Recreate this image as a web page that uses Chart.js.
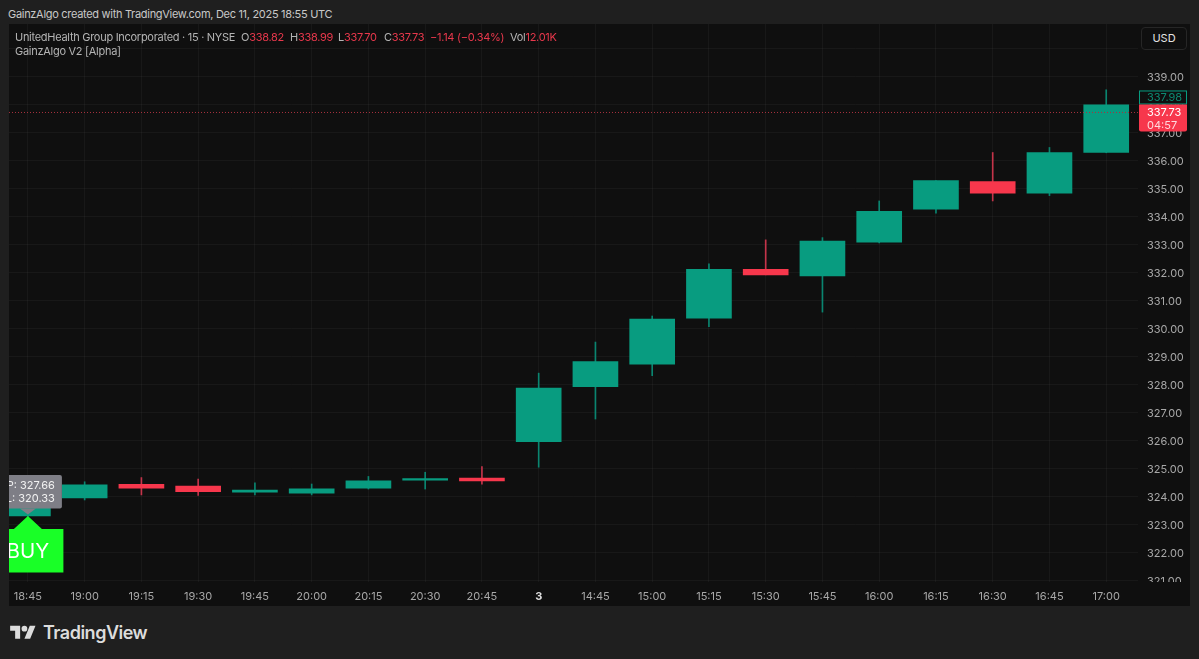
<!DOCTYPE html>
<html>
<head>
<meta charset="utf-8">
<style>
  html, body { margin: 0; padding: 0; width: 1199px; height: 659px; overflow: hidden; background: #1f1f1f; font-family: Inter, "Noto Sans", sans-serif; }
  .abs { position: absolute; white-space: nowrap; }
  #panel { position: absolute; left: 9px; top: 24px; width: 1181px; height: 582px; background: #0f0f0f; }
  #chart { position: absolute; left: 9px; top: 24px; }
  .legend { font-size: 11px; color: #b4b4b4; line-height: 14px; letter-spacing: -0.28px; }
  .legend b { font-weight: 400; color: #e8384c; }
  #usd { position: absolute; left: 1141px; top: 27px; width: 44px; height: 21px; border: 1px solid #262626; border-radius: 4px; color: #e4e4e4; font-size: 11px; line-height: 21px; text-align: center; background: #0f0f0f; }
</style>
</head>
<body>
<div class="abs" style="left:8px;top:7px;font-size:11px;line-height:14px;color:#c8c8c8;letter-spacing:-0.3px">GainzAlgo created with TradingView.com, Dec 11, 2025 18:55 UTC</div>
<div id="panel"></div>
<canvas id="chart" width="1181" height="582"></canvas>

<div class="abs legend" style="left:15px;top:30px">UnitedHealth Group Incorporated · 15 · NYSE</div>
<div class="abs legend" style="left:241px;top:30px">O<b>338.82</b></div>
<div class="abs legend" style="left:290px;top:30px">H<b>338.99</b></div>
<div class="abs legend" style="left:338px;top:30px">L<b>337.70</b></div>
<div class="abs legend" style="left:384px;top:30px">C<b>337.73</b></div>
<div class="abs legend" style="left:430px;top:30px"><b>−1.14 (−0.34%)</b></div>
<div class="abs legend" style="left:510px;top:30px">Vol<b>12.01K</b></div>
<div class="abs legend" style="left:15px;top:44px">GainzAlgo V2 [Alpha]</div>
<div id="usd">USD</div>

<svg class="abs" style="left:10px;top:623px" width="26" height="20" viewBox="0 0 36 28" fill="#dcdcdc">
  <path d="M14 22H7V11H0V4h14v18zM28 22h-8l7.5-18h8L28 22z"/><circle cx="20" cy="8" r="4"/>
</svg>
<div class="abs" style="left:43px;top:622px;font-size:18px;line-height:22px;font-weight:600;color:#dcdcdc;letter-spacing:-0.5px">TradingView</div>

<script src="https://cdn.jsdelivr.net/npm/chart.js@4/dist/chart.umd.js"></script>
<script>
const categories = ["18:45", "19:00", "19:15", "19:30", "19:45", "20:00", "20:15", "20:30", "20:45", "3",
  "14:45", "15:00", "15:15", "15:30", "15:45", "16:00", "16:15", "16:30", "16:45", "17:00"];
const opens = [323.32, 323.96, 324.45, 324.39, 324.17, 324.13, 324.31, 324.60, 324.67, 325.97,
  327.94, 328.74, 330.38, 332.13, 331.89, 333.10, 334.28, 335.26, 334.85, 336.30];
const closes = [323.96, 324.43, 324.31, 324.19, 324.24, 324.29, 324.57, 324.65, 324.57, 327.89,
  328.83, 330.35, 332.13, 331.93, 333.14, 334.20, 335.30, 334.85, 336.30, 338.00];
const highs = [324.10, 324.54, 324.69, 324.64, 324.50, 324.46, 324.73, 324.88, 325.08, 328.42,
  329.53, 330.46, 332.32, 333.18, 333.26, 334.57, 335.30, 336.30, 336.48, 338.54];
const lows = [323.25, 323.89, 324.07, 324.05, 324.07, 324.07, 324.28, 324.28, 324.45, 325.06,
  326.78, 328.33, 330.08, 331.93, 330.60, 333.07, 334.13, 334.57, 334.76, 336.29];
const lastPrice = 337.73;
const closeTag = "337.98";
const countdown = "04:57";
const tpText = "P: 327.66";
const slText = "L: 320.33";

const UP = "#089c80";
const DOWN = "#f7374c";
const UP_WICK = "#0a8570";
const DOWN_WICK = "#c4344a";
const GRID = "rgba(255,255,255,0.04)";
const TICK = "#a8a8a8";
const xMin = -0.333, xMax = 19.56;

const candleColors = opens.map((o, i) => (closes[i] >= o ? UP : DOWN));
const wickColors = opens.map((o, i) => (closes[i] >= o ? UP_WICK : DOWN_WICK));
const noPadding = (s) => { s.paddingLeft = 0; s.paddingRight = 0; s.paddingTop = 0; s.paddingBottom = 0; };
const isSession = (ctx) => ctx.tick && ctx.tick.value === 9; // the "3" label is bold

// everything tied to a price but not a candle: buy marker, tp/sl bubble, tags on the axis
const overlays = {
  id: "overlays",
  afterDraw(chart) {
    const { ctx, chartArea, scales } = chart;
    const cx = scales.x.getPixelForValue(0);
    const tip = scales.y.getPixelForValue(opens[0]);
    ctx.save();

    // hide what sticks out under the price axis (321.00 gets cut there)
    ctx.fillStyle = "#0f0f0f";
    ctx.fillRect(chartArea.right, chartArea.bottom, chart.width - chartArea.right, chart.height - chartArea.bottom);

    // TP / SL bubble
    ctx.fillStyle = "#7e7e86";
    ctx.beginPath();
    ctx.roundRect(cx - 36, tip - 41, 70, 33.5, 2);
    ctx.fill();
    ctx.beginPath();
    ctx.moveTo(cx - 8, tip - 7.5);
    ctx.lineTo(cx, tip - 1.5);
    ctx.lineTo(cx + 8, tip - 7.5);
    ctx.fill();
    ctx.fillStyle = "#f2f2f2";
    ctx.font = "11px Inter";
    ctx.textAlign = "right";
    ctx.textBaseline = "middle";
    ctx.fillText(tpText, cx + 27, tip - 30.5);
    ctx.fillText(slText, cx + 27, tip - 17.5);

    // BUY marker
    ctx.fillStyle = "#19ff27";
    ctx.beginPath();
    ctx.moveTo(cx, tip);
    ctx.lineTo(cx + 14, tip + 13);
    ctx.lineTo(cx + 35.5, tip + 13);
    ctx.lineTo(cx + 35.5, tip + 56.5);
    ctx.lineTo(cx - 40, tip + 56.5);
    ctx.lineTo(cx - 40, tip + 13);
    ctx.lineTo(cx - 14, tip + 13);
    ctx.closePath();
    ctx.fill();
    ctx.fillStyle = "#ffffff";
    ctx.font = "20.5px Inter";
    ctx.textAlign = "center";
    ctx.fillText("BUY", cx, tip + 35.5);

    // price tags
    const tagX = chartArea.right + 1;
    const py = scales.y.getPixelForValue(lastPrice);
    ctx.textAlign = "left";
    ctx.fillStyle = "#0f0f0f";
    ctx.fillRect(tagX, py - 22, 48, 14);
    ctx.strokeStyle = UP;
    ctx.strokeRect(tagX + 0.5, py - 21.5, 47, 13);
    ctx.fillStyle = "#0c8a72";
    ctx.font = "11px Inter";
    ctx.fillText(closeTag, tagX + 8, py - 14.5);
    ctx.fillStyle = DOWN;
    ctx.beginPath();
    ctx.roundRect(tagX, py - 8, 48, 27, [0, 0, 2, 2]);
    ctx.fill();
    ctx.fillStyle = "#ffffff";
    ctx.fillText(lastPrice.toFixed(2), tagX + 8, py + 0.5);
    ctx.fillStyle = "#ffd9dd";
    ctx.fillText(countdown, tagX + 8, py + 13);
    ctx.restore();
  },
};

new Chart(document.getElementById("chart").getContext("2d"), {
  data: {
    datasets: [
      {
        type: "bar",
        order: 3,
        grouped: false,
        barThickness: 1,
        backgroundColor: wickColors,
        data: categories.map((c, i) => ({ x: i, y: [lows[i], highs[i]] })),
      },
      {
        type: "bar",
        order: 2,
        grouped: false,
        barThickness: 45,
        backgroundColor: candleColors,
        data: categories.map((c, i) => ({ x: i, y: [Math.min(opens[i], closes[i]), Math.max(opens[i], closes[i])] })),
      },
      {
        type: "line",
        order: 1,
        borderColor: "#a8323f",
        borderWidth: 1,
        borderDash: [1, 2],
        pointRadius: 0,
        data: [{ x: xMin, y: lastPrice }, { x: xMax, y: lastPrice }],
      },
    ],
  },
  options: {
    responsive: false,
    animation: false,
    layout: { padding: 0 },
    plugins: { legend: { display: false }, tooltip: { enabled: false } },
    scales: {
      x: {
        type: "linear",
        min: xMin,
        max: xMax,
        offset: false,
        afterFit(s) { noPadding(s); s.height = 24; },
        grid: { color: GRID, drawTicks: false, offset: false },
        border: { display: false },
        ticks: {
          stepSize: 1,
          includeBounds: false,
          autoSkip: false,
          maxRotation: 0,
          padding: 8,
          color: (ctx) => (isSession(ctx) ? "#dedede" : TICK),
          font: (ctx) => ({ family: "Inter", size: 11, weight: isSession(ctx) ? "bold" : "normal" }),
          callback: (v) => categories[v],
        },
      },
      y: {
        position: "right",
        min: 320.96,
        max: 340.89,
        afterFit(s) { noPadding(s); s.width = 52; },
        grid: { color: GRID, drawTicks: false },
        border: { display: false },
        ticks: {
          stepSize: 1,
          includeBounds: false,
          autoSkip: false,
          padding: 9,
          labelOffset: 1,
          color: TICK,
          font: { family: "Inter", size: 11 },
          callback: (v) => (v > 339 ? "" : v.toFixed(2)),
        },
      },
    },
  },
  plugins: [overlays],
});
</script>
</body>
</html>
